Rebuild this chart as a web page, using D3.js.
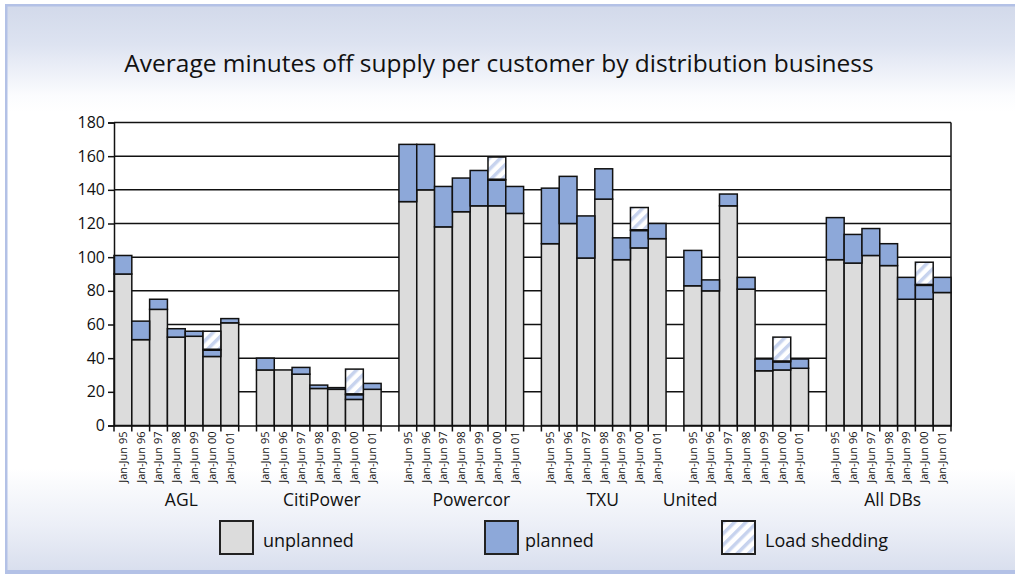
<!DOCTYPE html>
<html>
<head>
<meta charset="utf-8">
<script src="https://cdn.jsdelivr.net/npm/d3@7"></script>
<style>
  body { margin: 0; background: #fff; }
  svg { display: block; }
  text { font-family: "Open Sans", "Noto Sans", sans-serif; fill: #111; }
</style>
</head>
<body>
<svg id="chart" width="1015" height="574"></svg>
<script>
// data
const businesses = ['AGL', 'CitiPower', 'Powercor', 'TXU', 'United', 'All DBs'];
const periods = ['Jan-Jun 95', 'Jan-Jun 96', 'Jan-Jun 97', 'Jan-Jun 98', 'Jan-Jun 99', 'Jan-Jun 00', 'Jan-Jun 01'];

const unplanned = [
  [90, 51, 69, 52.5, 53, 41, 61],
  [33, 33, 30.5, 22, 21.5, 15.5, 21.5],
  [133, 140, 118, 127, 130.5, 130.5, 126],
  [108, 120, 99.5, 134.5, 98.5, 105.5, 111],
  [83, 80, 130.5, 81, 32.5, 33, 34],
  [98.5, 96.5, 101, 95, 75, 75, 79]
];
const planned = [
  [11, 11, 6, 5, 3, 4, 2.5],
  [7, 0, 4, 2, 1, 3, 3.5],
  [34, 27, 24, 20, 21, 15.5, 16],
  [33, 28, 25, 18, 13, 10.5, 9],
  [21, 6.5, 7, 7, 7, 5, 5.5],
  [25, 17, 16, 13, 13, 8.5, 9]
];
const loadShedding = [
  [0, 0, 0, 0, 0, 11, 0],
  [0, 0, 0, 0, 0, 15, 0],
  [0, 0, 0, 0, 0, 13.5, 0],
  [0, 0, 0, 0, 0, 13.5, 0],
  [0, 0, 0, 0, 0, 14.5, 0],
  [0, 0, 0, 0, 0, 13.5, 0]
];
const yTicks = [0, 20, 40, 60, 80, 100, 120, 140, 160, 180];
const seriesNames = ['unplanned', 'planned', 'Load shedding'];

// group name nudges so labels sit where the original put them
const labelShift = [5, 3, 10, -1, -56, 4];

const W = 1015, H = 574;
const margin = { left: 114, right: 64, top: 122.5, bottom: 148.5 };

const svg = d3.select('#chart');
const defs = svg.append('defs');

// background fade, top and bottom
const grad = defs.append('linearGradient')
  .attr('id', 'bg').attr('x1', 0).attr('y1', 0).attr('x2', 0).attr('y2', 1);
[[0, '#d2d9ea'], [0.07, '#dde3f1'], [0.16, '#fbfcfe'], [0.19, '#ffffff'],
 [0.82, '#ffffff'], [0.92, '#eceff7'], [1, '#d9dfee']]
  .forEach(([o, c]) => grad.append('stop').attr('offset', o).attr('stop-color', c));

const hatch = defs.append('pattern')
  .attr('id', 'hatch').attr('patternUnits', 'userSpaceOnUse')
  .attr('width', 8).attr('height', 8)
  .attr('patternTransform', 'rotate(45)');
hatch.append('rect').attr('width', 8).attr('height', 8).attr('fill', '#fff');
hatch.append('rect').attr('width', 3.5).attr('height', 8).attr('fill', '#c7d3ee');

svg.append('rect').attr('x', 6).attr('y', 5).attr('width', W - 6).attr('height', H - 9)
  .attr('fill', 'url(#bg)');
// frame lines
svg.append('rect').attr('x', 5).attr('y', 4).attr('width', W).attr('height', 2.5).attr('fill', '#b3c1e6');
svg.append('rect').attr('x', 5).attr('y', 4).attr('width', 2.5).attr('height', H - 8).attr('fill', '#b3c1e6');
svg.append('rect').attr('x', 5).attr('y', H - 4).attr('width', W).attr('height', 4).attr('fill', '#b3c1e6');

// title
svg.append('text')
  .attr('x', 499).attr('y', 72)
  .attr('text-anchor', 'middle')
  .attr('font-size', '24.5px')
  .text('Average minutes off supply per customer by distribution business');

// slots: 7 bars per business plus an empty slot between businesses
const slots = [];
businesses.forEach((b, bi) => {
  periods.forEach((p, pi) => slots.push(bi + '|' + pi));
  if (bi < businesses.length - 1) slots.push('gap' + bi);
});

const x = d3.scaleBand()
  .domain(slots)
  .range([margin.left, W - margin.right])
  .padding(0);

const y = d3.scaleLinear()
  .domain([0, 180])
  .range([H - margin.bottom, margin.top]);

const plot = svg.append('g');

// white plot background
plot.append('rect')
  .attr('x', margin.left).attr('y', y(180))
  .attr('width', W - margin.right - margin.left)
  .attr('height', y(0) - y(180))
  .attr('fill', '#fff');

// grid lines
plot.append('g')
  .selectAll('line')
  .data(yTicks.filter(d => d > 0))
  .join('line')
  .attr('x1', margin.left).attr('x2', W - margin.right)
  .attr('y1', d => y(d)).attr('y2', d => y(d))
  .attr('stroke', '#111').attr('stroke-width', 1.5);

plot.append('line')
  .attr('x1', W - margin.right).attr('x2', W - margin.right)
  .attr('y1', y(180)).attr('y2', y(0))
  .attr('stroke', '#111').attr('stroke-width', 1.5);

// stacked bars
const rows = [];
businesses.forEach((b, bi) => {
  periods.forEach((p, pi) => {
    rows.push({
      slot: bi + '|' + pi,
      unplanned: unplanned[bi][pi],
      planned: planned[bi][pi],
      shed: loadShedding[bi][pi]
    });
  });
});

const stack = d3.stack().keys(['unplanned', 'planned', 'shed'])(rows);
const fills = ['#dcdcdc', '#8da8d9', 'url(#hatch)'];

plot.append('g')
  .selectAll('g')
  .data(stack)
  .join('g')
  .attr('fill', (d, i) => fills[i])
  .selectAll('rect')
  .data(d => d.filter(s => s[1] - s[0] > 0))
  .join('rect')
  .attr('x', d => x(d.data.slot))
  .attr('width', x.bandwidth())
  .attr('y', d => y(d[1]))
  .attr('height', d => y(d[0]) - y(d[1]))
  .attr('stroke', '#111')
  .attr('stroke-width', 1.5);

// heavier seam under the load shedding blocks, as in the original
plot.append('g')
  .selectAll('line')
  .data(stack[2].filter(s => s[1] - s[0] > 0))
  .join('line')
  .attr('x1', d => x(d.data.slot)).attr('x2', d => x(d.data.slot) + x.bandwidth())
  .attr('y1', d => y(d[0])).attr('y2', d => y(d[0]))
  .attr('stroke', '#111').attr('stroke-width', 2.5);

// y axis
const yAxis = svg.append('g')
  .attr('transform', `translate(${margin.left},0)`)
  .call(d3.axisLeft(y).tickValues(yTicks).tickSize(6).tickPadding(3));
yAxis.selectAll('text').attr('font-size', '16px').attr('font-family', '"Open Sans", sans-serif').attr('fill', '#111');
yAxis.selectAll('line, path').attr('stroke', '#111').attr('stroke-width', 1.5);

// x axis: baseline, boundary ticks, rotated period labels
const barSlots = rows.map(r => r.slot);
const xAxis = svg.append('g')
  .attr('transform', `translate(0,${y(0)})`)
  .call(d3.axisBottom(x).tickValues(barSlots).tickSize(0).tickPadding(6)
    .tickFormat(d => periods[+d.split('|')[1]]));
xAxis.select('.domain').attr('stroke', '#111').attr('stroke-width', 1.5);
xAxis.selectAll('text')
  .attr('font-size', '11px')
  .attr('font-family', '"Open Sans", sans-serif')
  .attr('fill', '#111')
  .attr('text-anchor', 'end')
  .attr('transform', 'rotate(-90)')
  .attr('x', -6)
  .attr('y', 0)
  .attr('dy', '0.35em');

const edges = [];
barSlots.forEach(s => { edges.push(x(s)); edges.push(x(s) + x.bandwidth()); });
xAxis.append('g')
  .selectAll('line')
  .data(Array.from(new Set(edges.map(e => Math.round(e * 10) / 10))))
  .join('line')
  .attr('x1', d => d).attr('x2', d => d)
  .attr('y1', 0).attr('y2', 6)
  .attr('stroke', '#111').attr('stroke-width', 1.5);

// business names under each group
svg.append('g')
  .selectAll('text')
  .data(businesses)
  .join('text')
  .attr('x', (d, i) => {
    const first = x(i + '|0');
    const last = x(i + '|6') + x.bandwidth();
    return (first + last) / 2 + labelShift[i];
  })
  .attr('y', 506)
  .attr('text-anchor', 'middle')
  .attr('font-size', '17.5px')
  .text(d => d);

// legend
const legendX = [220, 485, 722];
const legendFill = ['#dcdcdc', '#8da8d9', 'url(#hatch)'];
const legend = svg.append('g')
  .selectAll('g')
  .data(seriesNames)
  .join('g')
  .attr('transform', (d, i) => `translate(${legendX[i]},521)`);
legend.append('rect')
  .attr('width', 33).attr('height', 33)
  .attr('fill', (d, i) => legendFill[i])
  .attr('stroke', '#222').attr('stroke-width', 2);
legend.append('text')
  .attr('x', (d, i) => [43, 40, 43][i])
  .attr('y', 26)
  .attr('font-size', '18px')
  .text(d => d);
</script>
</body>
</html>
